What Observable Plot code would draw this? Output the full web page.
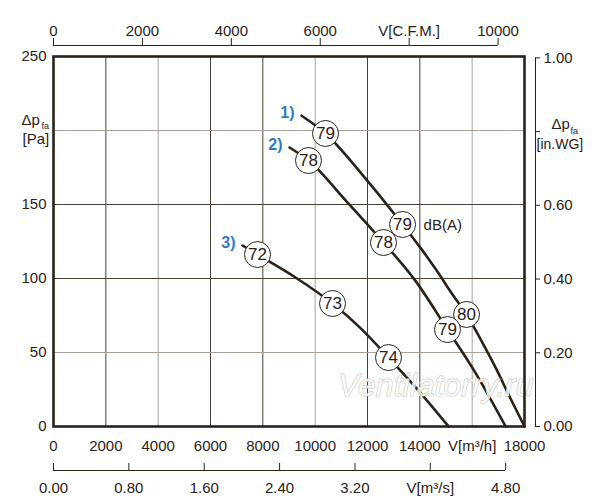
<!DOCTYPE html>
<html><head><meta charset="utf-8">
<script src="https://cdn.jsdelivr.net/npm/d3@7"></script>
<script src="https://cdn.jsdelivr.net/npm/@observablehq/plot@0.6"></script>
<style>body{margin:0;background:#fff}</style>
</head><body><div id="chart"></div>
<script>
// ---- data ----
const curve1V = [9480, 10395, 11847, 13340, 14026, 14637, 15249, 15785, 16319, 16892, 17465, 18000];
const curve1P = [210, 198, 169.2, 136.5, 120.7, 105.5, 89.2, 75.7, 59.1, 39.9, 18.9, 0];
const curve2V = [9020, 9745, 11180, 12612, 13834, 15057, 16166, 17280];
const curve2P = [188.5, 179.7, 152.5, 124.3, 98.4, 65.5, 35.1, 0];
const curve3V = [7223, 7796, 9249, 10663, 11733, 12803, 13949, 15100];
const curve3P = [122.3, 116.2, 100.7, 83.1, 66.5, 46.6, 24.3, 0];
const curveNames = ["1)", "2)", "3)"];

const markerCurve = ["1)", "1)", "1)", "2)", "2)", "2)", "3)", "3)", "3)"];
const markerV = [10395, 13340, 15785, 9745, 12612, 15057, 7796, 10663, 12803];
const markerP = [198, 136.5, 75.7, 179.7, 124.3, 65.5, 116.2, 83.1, 46.6];
const markerDb = ["79", "79", "80", "78", "78", "79", "72", "73", "74"];

const xTicks = [0, 2000, 4000, 6000, 8000, 10000, 12000, 14000, 16000, 18000];
const xTickLabels = ["0", "2000", "4000", "6000", "8000", "10000", "12000", "14000", "V[m³/h]", "18000"];
const yTicks = [0, 50, 100, 150, 200, 250];
const yTickLabels = ["0", "50", "100", "150", "", "250"];
const cfmTicks = [0, 2000, 4000, 6000, 8000, 10000];
const cfmLabels = ["0", "2000", "4000", "6000", "V[C.F.M.]", "10000"];
const m3sTicks = [0, 0.8, 1.6, 2.4, 3.2, 4.0, 4.8];
const m3sLabels = ["0.00", "0.80", "1.60", "2.40", "3.20", "V[m³/s]", "4.80"];
const inwgTicks = [0, 0.2, 0.4, 0.6, 0.8, 1.0];
const inwgLabels = ["0.00", "0.20", "0.40", "0.60", "", "1.00"];

// unit conversions to the primary scales (m³/h, Pa)
const CFM = 1.699, M3S = 3600, INWG = 249.09;

// ---- build tables ----
const curves = [[curve1V, curve1P], [curve2V, curve2P], [curve3V, curve3P]];
const lineRows = curves.flatMap(([V, P], k) => V.map((v, i) => ({curve: curveNames[k], V: v, P: P[i]})));
const startRows = curves.map(([V, P], k) => ({curve: curveNames[k], V: V[0], P: P[0]}));
const markerRows = markerV.map((v, i) => ({curve: markerCurve[i], V: v, P: markerP[i], db: markerDb[i]}));

const ink = "#2b2118";
const gridDark = "#4a4036";
const gridLight = "#a9a199";
const blue = "#2f7ec1";
const grayX = new Set([4000, 10000, 16000]);
const grayY = new Set([50, 200]);
const gridX = xTicks.filter(d => d > 0 && d < 18000);
const gridY = yTicks.filter(d => d > 0 && d < 250);

const chart = Plot.plot({
  width: 600, height: 500,
  marginLeft: 53, marginRight: 76, marginTop: 56, marginBottom: 74,
  x: {domain: [0, 18000], axis: null},
  y: {domain: [0, 250], axis: null},
  style: {fontFamily: "'Liberation Sans', Arial, sans-serif", fontSize: "15px", color: ink, background: "white"},
  marks: [
    Plot.ruleX(gridX.filter(d => !grayX.has(d)), {stroke: gridDark, strokeWidth: 1}),
    Plot.ruleX(gridX.filter(d => grayX.has(d)), {stroke: gridLight, strokeWidth: 1}),
    Plot.ruleY(gridY.filter(d => !grayY.has(d)), {stroke: gridDark, strokeWidth: 1}),
    Plot.ruleY(gridY.filter(d => grayY.has(d)), {stroke: gridLight, strokeWidth: 1}),

    Plot.line(lineRows, {x: "V", y: "P", z: "curve", stroke: ink, strokeWidth: 2.6, curve: "monotone-x"}),

    Plot.text(["Ventilatorry.ru"], {frameAnchor: "bottom-right", textAnchor: "end", dx: 9, dy: -31,
      fontSize: 32, fontStyle: "italic", fill: "white", fillOpacity: 0.8, stroke: "#c6c1bb", strokeWidth: 1}),

    Plot.dot(markerRows, {x: "V", y: "P", r: 13, fill: "white", stroke: ink, strokeWidth: 1}),
    Plot.text(markerRows, {x: "V", y: "P", text: "db", fontSize: 17, fill: ink}),

    Plot.frame({stroke: ink, strokeWidth: 2.6}),

    // curve numbers
    Plot.text(startRows, {x: "V", y: "P", text: "curve", textAnchor: "end", dx: -7, dy: -3,
      fill: blue, fontWeight: "bold", fontSize: 16}),
    // dB(A)
    Plot.text(markerRows.filter((d, i) => i === 1), {x: "V", y: "P", text: () => "dB(A)", textAnchor: "start", dx: 21, dy: 1, fontSize: 15, fill: ink}),

    // bottom m³/h labels
    Plot.text(xTicks, {x: d => d, y: 0, text: (d, i) => xTickLabels[i], dy: 20, fill: ink}),
    // left Pa labels
    Plot.text(yTicks, {x: 0, y: d => d, text: (d, i) => yTickLabels[i], textAnchor: "end", dx: -7, fill: ink}),
    Plot.text(["Δp"], {x: 0, y: 200, textAnchor: "start", dx: -32, dy: -10, fontSize: 15, fill: ink}),
    Plot.text(["fa"], {x: 0, y: 200, textAnchor: "start", dx: -12, dy: -4, fontSize: 9, fill: ink}),
    Plot.text(["[Pa]"], {x: 0, y: 200, textAnchor: "start", dx: -31, dy: 9, fontSize: 15, fill: ink}),

    // top CFM axis
    Plot.ruleY([250], {x1: 0, x2: 10000 * CFM, dy: -11, stroke: ink, strokeWidth: 1}),
    Plot.ruleX(cfmTicks, {x: d => d * CFM, y1: 250, y2: 250, dy: -11, insetBottom: 7, stroke: ink, strokeWidth: 1}),
    Plot.text(cfmTicks, {x: d => d * CFM, y: 250, text: (d, i) => cfmLabels[i], dy: -25, fill: ink}),

    // bottom m³/s axis
    Plot.ruleY([0], {x1: 0, x2: 4.8 * M3S, dy: 44, stroke: ink, strokeWidth: 1}),
    Plot.ruleX(m3sTicks, {x: d => d * M3S, y1: 0, y2: 0, dy: 44, insetBottom: 7, stroke: ink, strokeWidth: 1}),
    Plot.text(m3sTicks, {x: d => d * M3S, y: 0, text: (d, i) => m3sLabels[i], dy: 62, fill: ink}),

    // right in.WG axis
    Plot.ruleX([18000], {y1: 0, y2: 1.0 * INWG, dx: 11, stroke: ink, strokeWidth: 1}),
    Plot.ruleY(inwgTicks, {y: d => d * INWG, x1: 18000, x2: 18000, dx: 11, insetRight: -5, stroke: ink, strokeWidth: 1}),
    Plot.text(inwgTicks, {x: 18000, y: d => d * INWG, text: (d, i) => inwgLabels[i], textAnchor: "start", dx: 19, fill: ink}),
    Plot.text(["Δp"], {x: 18000, y: 0.8 * INWG, textAnchor: "start", dx: 27, dy: -7, fontSize: 15, fill: ink}),
    Plot.text(["fa"], {x: 18000, y: 0.8 * INWG, textAnchor: "start", dx: 46, dy: 0, fontSize: 9, fill: ink}),
    Plot.text(["[in.WG]"], {x: 18000, y: 0.8 * INWG, textAnchor: "start", dx: 12, dy: 13, fontSize: 14, fill: ink})
  ]
});
document.getElementById("chart").append(chart);
</script>
</body></html>
